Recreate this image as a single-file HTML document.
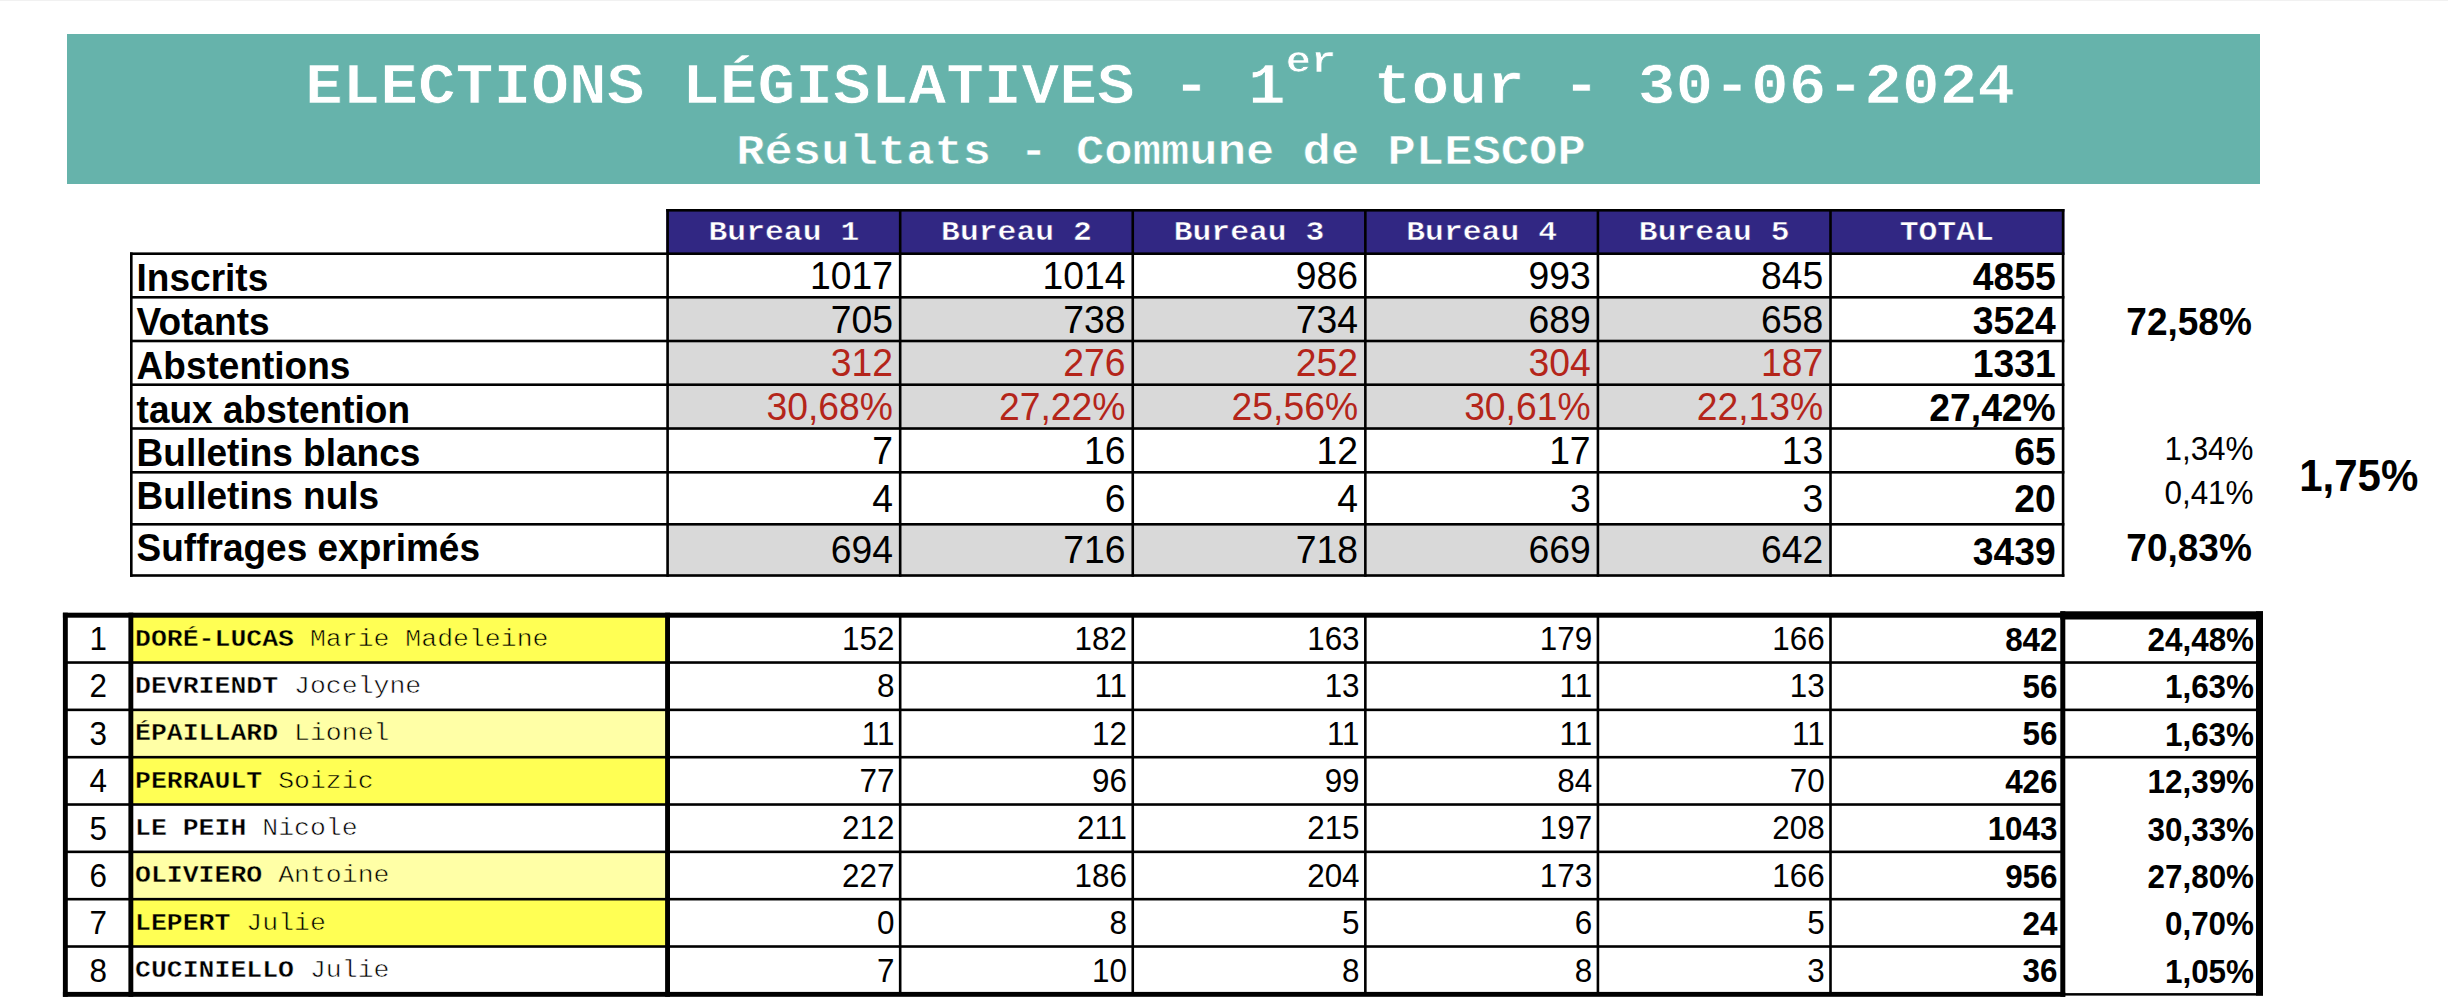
<!DOCTYPE html>
<html lang="fr">
<head>
<meta charset="utf-8">
<title>Elections législatives - 1er tour - 30-06-2024 - Résultats - Commune de PLESCOP</title>
<style>
html,body{margin:0;padding:0;background:#fff;}
body{width:2448px;height:1002px;overflow:hidden;position:relative;font-family:"Liberation Sans",sans-serif;color:#000;}
#grid{position:absolute;left:0;top:0;}
.t{position:absolute;line-height:1;white-space:pre;font-weight:400;}
.b{font-weight:700;}
.s{transform:scaleY(1.04);transform-origin:0 84.65%;}
.m{font-family:"Liberation Mono",monospace;}
.m b{font-weight:700;}
.sq{transform:scaleY(0.9);transform-origin:0 76.67%;}
#title{position:absolute;left:0;width:2326px;text-align:center;color:#fff;font-family:"Liberation Mono",monospace;font-weight:700;line-height:1;white-space:pre;}
#t1{top:55.80px;font-size:62.87px;-webkit-text-stroke:0.8px #66b3ab;transform:scaleY(0.9);transform-origin:0 76.67%;}
#t1 sup{font-size:42px;vertical-align:baseline;position:relative;top:-35.5px;line-height:0;}
#t2{top:127.81px;font-size:47.2px;-webkit-text-stroke:0.6px #66b3ab;transform:scaleY(0.9);transform-origin:0 76.67%;}
</style>
</head>
<body>
<svg id="grid" width="2448" height="1002" viewBox="0 0 2448 1002">
<rect x="0.00" y="0.00" width="2448.00" height="1.00" fill="#f1f1f1"/>
<rect x="67.00" y="34.00" width="2193.00" height="150.00" fill="#66b3ab"/>
<rect x="666.30" y="209.00" width="1398.08" height="46.00" fill="#312783"/>
<rect x="666.30" y="296.00" width="1165.50" height="133.80" fill="#d9d9d9"/>
<rect x="666.30" y="523.00" width="1165.50" height="53.80" fill="#d9d9d9"/>
<rect x="666.30" y="209.00" width="1398.08" height="2.60" fill="#000"/>
<rect x="130.00" y="252.40" width="1934.38" height="2.60" fill="#000"/>
<rect x="130.00" y="296.00" width="1934.38" height="2.60" fill="#000"/>
<rect x="130.00" y="339.70" width="1934.38" height="2.60" fill="#000"/>
<rect x="130.00" y="383.40" width="1934.38" height="2.60" fill="#000"/>
<rect x="130.00" y="427.20" width="1934.38" height="2.60" fill="#000"/>
<rect x="130.00" y="471.00" width="1934.38" height="2.60" fill="#000"/>
<rect x="130.00" y="523.00" width="1934.38" height="2.60" fill="#000"/>
<rect x="130.00" y="574.20" width="1934.38" height="2.60" fill="#000"/>
<rect x="130.00" y="252.40" width="2.60" height="324.40" fill="#000"/>
<rect x="666.30" y="209.00" width="2.60" height="367.80" fill="#000"/>
<rect x="898.88" y="209.00" width="2.60" height="367.80" fill="#000"/>
<rect x="1131.46" y="209.00" width="2.60" height="367.80" fill="#000"/>
<rect x="1364.04" y="209.00" width="2.60" height="367.80" fill="#000"/>
<rect x="1596.62" y="209.00" width="2.60" height="367.80" fill="#000"/>
<rect x="1829.20" y="209.00" width="2.60" height="367.80" fill="#000"/>
<rect x="2061.78" y="209.00" width="2.60" height="367.80" fill="#000"/>
<rect x="131.00" y="615.20" width="536.50" height="47.33" fill="#ffff54"/>
<rect x="131.00" y="709.86" width="536.50" height="47.33" fill="#ffffa6"/>
<rect x="131.00" y="757.19" width="536.50" height="47.33" fill="#ffff54"/>
<rect x="131.00" y="851.85" width="536.50" height="47.33" fill="#ffffa6"/>
<rect x="131.00" y="899.18" width="536.50" height="47.33" fill="#ffff54"/>
<rect x="65.00" y="661.23" width="1997.00" height="2.60" fill="#000"/>
<rect x="65.00" y="708.56" width="1997.00" height="2.60" fill="#000"/>
<rect x="65.00" y="755.89" width="1997.00" height="2.60" fill="#000"/>
<rect x="65.00" y="803.22" width="1997.00" height="2.60" fill="#000"/>
<rect x="65.00" y="850.55" width="1997.00" height="2.60" fill="#000"/>
<rect x="65.00" y="897.88" width="1997.00" height="2.60" fill="#000"/>
<rect x="65.00" y="945.21" width="1997.00" height="2.60" fill="#000"/>
<rect x="2062.00" y="661.23" width="196.00" height="2.60" fill="#000"/>
<rect x="2062.00" y="708.56" width="196.00" height="2.60" fill="#000"/>
<rect x="2062.00" y="755.89" width="196.00" height="2.60" fill="#000"/>
<rect x="898.88" y="615.20" width="2.60" height="378.64" fill="#000"/>
<rect x="1131.46" y="615.20" width="2.60" height="378.64" fill="#000"/>
<rect x="1364.04" y="615.20" width="2.60" height="378.64" fill="#000"/>
<rect x="1596.62" y="615.20" width="2.60" height="378.64" fill="#000"/>
<rect x="1829.20" y="615.20" width="2.60" height="378.64" fill="#000"/>
<rect x="62.90" y="612.70" width="1999.10" height="5.00" fill="#000"/>
<rect x="62.90" y="991.90" width="2002.30" height="4.90" fill="#000"/>
<rect x="62.90" y="612.70" width="4.90" height="384.10" fill="#000"/>
<rect x="128.40" y="612.70" width="4.90" height="384.10" fill="#000"/>
<rect x="665.10" y="612.70" width="4.90" height="384.10" fill="#000"/>
<rect x="2060.30" y="611.30" width="202.70" height="8.20" fill="#000"/>
<rect x="2060.30" y="611.30" width="5.00" height="385.50" fill="#000"/>
<rect x="2256.00" y="611.30" width="7.00" height="384.30" fill="#000"/>
<rect x="2062.00" y="993.10" width="201.00" height="2.50" fill="#000"/>
</svg>
<div class="t m b sq" style="top:215.83px;font-size:31.40px;left:383.89px;width:800px;text-align:center;color:#fff;-webkit-text-stroke:0.5px #312783;">Bureau 1</div>
<div class="t m b sq" style="top:215.83px;font-size:31.40px;left:616.47px;width:800px;text-align:center;color:#fff;-webkit-text-stroke:0.5px #312783;">Bureau 2</div>
<div class="t m b sq" style="top:215.83px;font-size:31.40px;left:849.05px;width:800px;text-align:center;color:#fff;-webkit-text-stroke:0.5px #312783;">Bureau 3</div>
<div class="t m b sq" style="top:215.83px;font-size:31.40px;left:1081.63px;width:800px;text-align:center;color:#fff;-webkit-text-stroke:0.5px #312783;">Bureau 4</div>
<div class="t m b sq" style="top:215.83px;font-size:31.40px;left:1314.21px;width:800px;text-align:center;color:#fff;-webkit-text-stroke:0.5px #312783;">Bureau 5</div>
<div class="t m b sq" style="top:215.83px;font-size:31.40px;left:1546.79px;width:800px;text-align:center;color:#fff;-webkit-text-stroke:0.5px #312783;">TOTAL</div>
<div class="t b s" style="top:260.48px;font-size:37.00px;left:136.60px;">Inscrits</div>
<div class="t s" style="top:258.03px;font-size:37.30px;right:1555.12px;">1017</div>
<div class="t s" style="top:258.03px;font-size:37.30px;right:1322.54px;">1014</div>
<div class="t s" style="top:258.03px;font-size:37.30px;right:1089.96px;">986</div>
<div class="t s" style="top:258.03px;font-size:37.30px;right:857.38px;">993</div>
<div class="t s" style="top:258.03px;font-size:37.30px;right:624.80px;">845</div>
<div class="t b s" style="top:258.83px;font-size:37.30px;right:392.22px;">4855</div>
<div class="t b s" style="top:304.18px;font-size:37.00px;left:136.60px;">Votants</div>
<div class="t s" style="top:301.73px;font-size:37.30px;right:1555.12px;">705</div>
<div class="t s" style="top:301.73px;font-size:37.30px;right:1322.54px;">738</div>
<div class="t s" style="top:301.73px;font-size:37.30px;right:1089.96px;">734</div>
<div class="t s" style="top:301.73px;font-size:37.30px;right:857.38px;">689</div>
<div class="t s" style="top:301.73px;font-size:37.30px;right:624.80px;">658</div>
<div class="t b s" style="top:302.53px;font-size:37.30px;right:392.22px;">3524</div>
<div class="t b s" style="top:347.88px;font-size:37.00px;left:136.60px;">Abstentions</div>
<div class="t s" style="top:345.43px;font-size:37.30px;right:1555.12px;color:#b4251a;">312</div>
<div class="t s" style="top:345.43px;font-size:37.30px;right:1322.54px;color:#b4251a;">276</div>
<div class="t s" style="top:345.43px;font-size:37.30px;right:1089.96px;color:#b4251a;">252</div>
<div class="t s" style="top:345.43px;font-size:37.30px;right:857.38px;color:#b4251a;">304</div>
<div class="t s" style="top:345.43px;font-size:37.30px;right:624.80px;color:#b4251a;">187</div>
<div class="t b s" style="top:346.23px;font-size:37.30px;right:392.22px;">1331</div>
<div class="t b s" style="top:391.58px;font-size:37.00px;left:136.60px;">taux abstention</div>
<div class="t s" style="top:389.13px;font-size:37.30px;right:1555.12px;color:#b4251a;">30,68%</div>
<div class="t s" style="top:389.13px;font-size:37.30px;right:1322.54px;color:#b4251a;">27,22%</div>
<div class="t s" style="top:389.13px;font-size:37.30px;right:1089.96px;color:#b4251a;">25,56%</div>
<div class="t s" style="top:389.13px;font-size:37.30px;right:857.38px;color:#b4251a;">30,61%</div>
<div class="t s" style="top:389.13px;font-size:37.30px;right:624.80px;color:#b4251a;">22,13%</div>
<div class="t b s" style="top:389.93px;font-size:37.30px;right:392.22px;">27,42%</div>
<div class="t b s" style="top:435.08px;font-size:37.00px;left:136.60px;">Bulletins blancs</div>
<div class="t s" style="top:433.13px;font-size:37.30px;right:1555.12px;">7</div>
<div class="t s" style="top:433.13px;font-size:37.30px;right:1322.54px;">16</div>
<div class="t s" style="top:433.13px;font-size:37.30px;right:1089.96px;">12</div>
<div class="t s" style="top:433.13px;font-size:37.30px;right:857.38px;">17</div>
<div class="t s" style="top:433.13px;font-size:37.30px;right:624.80px;">13</div>
<div class="t b s" style="top:434.13px;font-size:37.30px;right:392.22px;">65</div>
<div class="t b s" style="top:478.48px;font-size:37.00px;left:136.60px;">Bulletins nuls</div>
<div class="t s" style="top:481.23px;font-size:37.30px;right:1555.12px;">4</div>
<div class="t s" style="top:481.23px;font-size:37.30px;right:1322.54px;">6</div>
<div class="t s" style="top:481.23px;font-size:37.30px;right:1089.96px;">4</div>
<div class="t s" style="top:481.23px;font-size:37.30px;right:857.38px;">3</div>
<div class="t s" style="top:481.23px;font-size:37.30px;right:624.80px;">3</div>
<div class="t b s" style="top:481.33px;font-size:37.30px;right:392.22px;">20</div>
<div class="t b s" style="top:530.08px;font-size:37.00px;left:136.60px;">Suffrages exprimés</div>
<div class="t s" style="top:532.23px;font-size:37.30px;right:1555.12px;">694</div>
<div class="t s" style="top:532.23px;font-size:37.30px;right:1322.54px;">716</div>
<div class="t s" style="top:532.23px;font-size:37.30px;right:1089.96px;">718</div>
<div class="t s" style="top:532.23px;font-size:37.30px;right:857.38px;">669</div>
<div class="t s" style="top:532.23px;font-size:37.30px;right:624.80px;">642</div>
<div class="t b s" style="top:533.73px;font-size:37.30px;right:392.22px;">3439</div>
<div class="t b s" style="top:304.48px;font-size:37.00px;right:196.20px;">72,58%</div>
<div class="t b s" style="top:530.48px;font-size:37.00px;right:196.20px;">70,83%</div>
<div class="t s" style="top:434.12px;font-size:31.40px;right:194.50px;">1,34%</div>
<div class="t s" style="top:478.02px;font-size:31.40px;right:194.50px;">0,41%</div>
<div class="t b s" style="top:455.85px;font-size:42.00px;right:29.70px;">1,75%</div>
<div class="t s" style="top:623.92px;font-size:31.40px;left:-301.70px;width:800px;text-align:center;">1</div>
<div class="t m sq" style="top:625.68px;font-size:26.50px;left:135.00px;"><b style="-webkit-text-stroke:0.4px #ffff54">DORÉ-LUCAS</b> <span style="-webkit-text-stroke:0.6px #ffff54">Marie Madeleine</span></div>
<div class="t s" style="top:623.82px;font-size:31.40px;right:1553.62px;">152</div>
<div class="t s" style="top:623.82px;font-size:31.40px;right:1321.04px;">182</div>
<div class="t s" style="top:623.82px;font-size:31.40px;right:1088.46px;">163</div>
<div class="t s" style="top:623.82px;font-size:31.40px;right:855.88px;">179</div>
<div class="t s" style="top:623.82px;font-size:31.40px;right:623.30px;">166</div>
<div class="t b s" style="top:624.52px;font-size:31.40px;right:390.50px;">842</div>
<div class="t b s" style="top:625.02px;font-size:31.40px;right:194.00px;">24,48%</div>
<div class="t s" style="top:671.32px;font-size:31.40px;left:-301.70px;width:800px;text-align:center;">2</div>
<div class="t m sq" style="top:673.03px;font-size:26.50px;left:135.00px;"><b style="-webkit-text-stroke:0.4px #fff">DEVRIENDT</b> <span style="-webkit-text-stroke:0.6px #fff">Jocelyne</span></div>
<div class="t s" style="top:671.22px;font-size:31.40px;right:1553.62px;">8</div>
<div class="t s" style="top:671.22px;font-size:31.40px;right:1321.04px;">11</div>
<div class="t s" style="top:671.22px;font-size:31.40px;right:1088.46px;">13</div>
<div class="t s" style="top:671.22px;font-size:31.40px;right:855.88px;">11</div>
<div class="t s" style="top:671.22px;font-size:31.40px;right:623.30px;">13</div>
<div class="t b s" style="top:671.92px;font-size:31.40px;right:390.50px;">56</div>
<div class="t b s" style="top:672.42px;font-size:31.40px;right:194.00px;">1,63%</div>
<div class="t s" style="top:718.72px;font-size:31.40px;left:-301.70px;width:800px;text-align:center;">3</div>
<div class="t m sq" style="top:720.38px;font-size:26.50px;left:135.00px;"><b style="-webkit-text-stroke:0.4px #ffffa6">ÉPAILLARD</b> <span style="-webkit-text-stroke:0.6px #ffffa6">Lionel</span></div>
<div class="t s" style="top:718.62px;font-size:31.40px;right:1553.62px;">11</div>
<div class="t s" style="top:718.62px;font-size:31.40px;right:1321.04px;">12</div>
<div class="t s" style="top:718.62px;font-size:31.40px;right:1088.46px;">11</div>
<div class="t s" style="top:718.62px;font-size:31.40px;right:855.88px;">11</div>
<div class="t s" style="top:718.62px;font-size:31.40px;right:623.30px;">11</div>
<div class="t b s" style="top:719.32px;font-size:31.40px;right:390.50px;">56</div>
<div class="t b s" style="top:719.82px;font-size:31.40px;right:194.00px;">1,63%</div>
<div class="t s" style="top:766.12px;font-size:31.40px;left:-301.70px;width:800px;text-align:center;">4</div>
<div class="t m sq" style="top:767.73px;font-size:26.50px;left:135.00px;"><b style="-webkit-text-stroke:0.4px #ffff54">PERRAULT</b> <span style="-webkit-text-stroke:0.6px #ffff54">Soizic</span></div>
<div class="t s" style="top:766.02px;font-size:31.40px;right:1553.62px;">77</div>
<div class="t s" style="top:766.02px;font-size:31.40px;right:1321.04px;">96</div>
<div class="t s" style="top:766.02px;font-size:31.40px;right:1088.46px;">99</div>
<div class="t s" style="top:766.02px;font-size:31.40px;right:855.88px;">84</div>
<div class="t s" style="top:766.02px;font-size:31.40px;right:623.30px;">70</div>
<div class="t b s" style="top:766.72px;font-size:31.40px;right:390.50px;">426</div>
<div class="t b s" style="top:767.22px;font-size:31.40px;right:194.00px;">12,39%</div>
<div class="t s" style="top:813.52px;font-size:31.40px;left:-301.70px;width:800px;text-align:center;">5</div>
<div class="t m sq" style="top:815.08px;font-size:26.50px;left:135.00px;"><b style="-webkit-text-stroke:0.4px #fff">LE PEIH</b> <span style="-webkit-text-stroke:0.6px #fff">Nicole</span></div>
<div class="t s" style="top:813.42px;font-size:31.40px;right:1553.62px;">212</div>
<div class="t s" style="top:813.42px;font-size:31.40px;right:1321.04px;">211</div>
<div class="t s" style="top:813.42px;font-size:31.40px;right:1088.46px;">215</div>
<div class="t s" style="top:813.42px;font-size:31.40px;right:855.88px;">197</div>
<div class="t s" style="top:813.42px;font-size:31.40px;right:623.30px;">208</div>
<div class="t b s" style="top:814.12px;font-size:31.40px;right:390.50px;">1043</div>
<div class="t b s" style="top:814.62px;font-size:31.40px;right:194.00px;">30,33%</div>
<div class="t s" style="top:860.92px;font-size:31.40px;left:-301.70px;width:800px;text-align:center;">6</div>
<div class="t m sq" style="top:862.43px;font-size:26.50px;left:135.00px;"><b style="-webkit-text-stroke:0.4px #ffffa6">OLIVIERO</b> <span style="-webkit-text-stroke:0.6px #ffffa6">Antoine</span></div>
<div class="t s" style="top:860.82px;font-size:31.40px;right:1553.62px;">227</div>
<div class="t s" style="top:860.82px;font-size:31.40px;right:1321.04px;">186</div>
<div class="t s" style="top:860.82px;font-size:31.40px;right:1088.46px;">204</div>
<div class="t s" style="top:860.82px;font-size:31.40px;right:855.88px;">173</div>
<div class="t s" style="top:860.82px;font-size:31.40px;right:623.30px;">166</div>
<div class="t b s" style="top:861.52px;font-size:31.40px;right:390.50px;">956</div>
<div class="t b s" style="top:862.02px;font-size:31.40px;right:194.00px;">27,80%</div>
<div class="t s" style="top:908.32px;font-size:31.40px;left:-301.70px;width:800px;text-align:center;">7</div>
<div class="t m sq" style="top:909.78px;font-size:26.50px;left:135.00px;"><b style="-webkit-text-stroke:0.4px #ffff54">LEPERT</b> <span style="-webkit-text-stroke:0.6px #ffff54">Julie</span></div>
<div class="t s" style="top:908.22px;font-size:31.40px;right:1553.62px;">0</div>
<div class="t s" style="top:908.22px;font-size:31.40px;right:1321.04px;">8</div>
<div class="t s" style="top:908.22px;font-size:31.40px;right:1088.46px;">5</div>
<div class="t s" style="top:908.22px;font-size:31.40px;right:855.88px;">6</div>
<div class="t s" style="top:908.22px;font-size:31.40px;right:623.30px;">5</div>
<div class="t b s" style="top:908.92px;font-size:31.40px;right:390.50px;">24</div>
<div class="t b s" style="top:909.42px;font-size:31.40px;right:194.00px;">0,70%</div>
<div class="t s" style="top:955.72px;font-size:31.40px;left:-301.70px;width:800px;text-align:center;">8</div>
<div class="t m sq" style="top:957.13px;font-size:26.50px;left:135.00px;"><b style="-webkit-text-stroke:0.4px #fff">CUCINIELLO</b> <span style="-webkit-text-stroke:0.6px #fff">Julie</span></div>
<div class="t s" style="top:955.62px;font-size:31.40px;right:1553.62px;">7</div>
<div class="t s" style="top:955.62px;font-size:31.40px;right:1321.04px;">10</div>
<div class="t s" style="top:955.62px;font-size:31.40px;right:1088.46px;">8</div>
<div class="t s" style="top:955.62px;font-size:31.40px;right:855.88px;">8</div>
<div class="t s" style="top:955.62px;font-size:31.40px;right:623.30px;">3</div>
<div class="t b s" style="top:956.32px;font-size:31.40px;right:390.50px;">36</div>
<div class="t b s" style="top:956.82px;font-size:31.40px;right:194.00px;">1,05%</div>
<div id="title"><div id="t1" style="position:absolute;left:-3px;width:2326px">ELECTIONS LÉGISLATIVES - 1<sup>er</sup> tour - 30-06-2024</div>
<div id="t2" style="position:absolute;left:-2px;width:2326px">Résultats - Commune de PLESCOP</div></div>
</body>
</html>
